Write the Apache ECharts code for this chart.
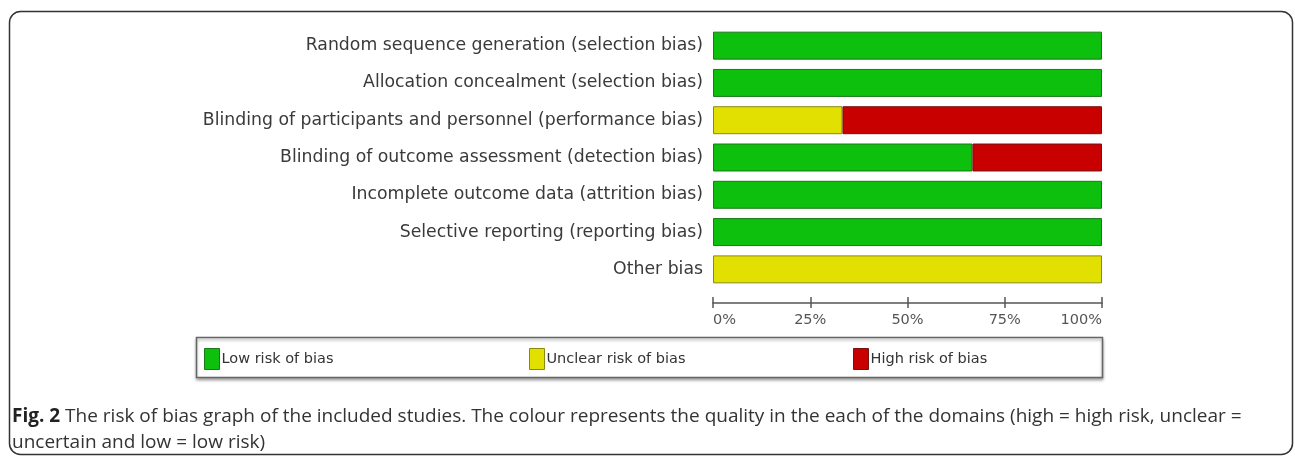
<!DOCTYPE html>
<html>
<head>
<meta charset="utf-8">
<script src="https://cdn.jsdelivr.net/npm/echarts@6/dist/echarts.min.js"></script>
<style>
html,body{margin:0;padding:0;background:#fff;}
#chart{width:1295px;height:457px;}
</style>
</head>
<body>
<div id="chart"></div>
<script>
const categories = [
  'Random sequence generation (selection bias)',
  'Allocation concealment (selection bias)',
  'Blinding of participants and personnel (performance bias)',
  'Blinding of outcome assessment (detection bias)',
  'Incomplete outcome data (attrition bias)',
  'Selective reporting (reporting bias)',
  'Other bias'
];
const lowRisk     = [100, 100, 0, 66.7, 100, 100, 0];
const unclearRisk = [0, 0, 33.3, 0, 0, 0, 100];
const highRisk    = [0, 0, 66.7, 33.3, 0, 0, 0];
const seriesNames = ['Low risk of bias', 'Unclear risk of bias', 'High risk of bias'];
const tickLabels  = ['0%', '25%', '50%', '75%', '100%'];
const captionBold = 'Fig. 2';
const captionText = ' The risk of bias graph of the included studies. The colour represents the quality in the each of the domains (high = high risk, unclear =\nuncertain and low = low risk)';

const fills   = ['#0ec00e', '#e2e000', '#c80000'];
const borders = ['#177a17', '#8a8a10', '#7a1010'];

const chart = echarts.init(document.getElementById('chart'));
const clean = arr => arr.map(v => v === 0 ? '-' : v);
const allData = [lowRisk, unclearRisk, highRisk];

const series = allData.map((d, i) => ({
  name: seriesNames[i],
  type: 'bar',
  stack: 'total',
  data: clean(d),
  barCategoryGap: '25%',
  itemStyle: { color: fills[i], borderColor: borders[i], borderWidth: 1 },
  emphasis: { disabled: true },
  xAxisIndex: 0, yAxisIndex: 0
}));

const legendLefts = [199, 524, 848];
const legends = seriesNames.map((n, i) => ({
  data: [n],
  left: legendLefts[i],
  top: 343,
  orient: 'horizontal',
  itemWidth: 15,
  itemHeight: 21,
  itemGap: 4,
  icon: 'rect',
  selectedMode: false,
  textStyle: { fontFamily: 'DejaVu Sans', fontSize: 14.5, color: '#333', padding: [0,0,0,-3] },
  itemStyle: { borderColor: borders[i], borderWidth: 1 }
}));

const option = {
  animation: false,
  backgroundColor: '#fff',
  title: {
    text: '{b|' + captionBold + '}{n|' + captionText + '}',
    left: 7,
    top: 399,
    textStyle: {
      fontWeight: 'normal',
      rich: {
        b: { fontFamily: 'Open Sans', fontWeight: 'bold', fontSize: 19, color: '#222', lineHeight: 26 },
        n: { fontFamily: 'Open Sans', fontWeight: 'normal', fontSize: 19, color: '#333', lineHeight: 26 }
      }
    }
  },
  legend: legends,
  grid: { left: 713, right: 193, top: 27, bottom: 169, containLabel: false },
  xAxis: [{
    type: 'value', min: 0, max: 100, interval: 25,
    offset: 15,
    splitLine: { show: false },
    axisLine: { show: true, lineStyle: { color: '#555', width: 1.5 } },
    axisTick: { show: true, length: 5, lineStyle: { color: '#555', width: 1.5 } },
    axisLabel: {
      formatter: v => tickLabels[Math.round(v / 25)],
      fontFamily: 'DejaVu Sans', fontSize: 14.5, color: '#555', margin: 10,
      alignMinLabel: 'left', alignMaxLabel: 'right'
    }
  }, {
    type: 'value', min: 0, max: 100, interval: 25,
    position: 'bottom', offset: 15,
    splitLine: { show: false },
    axisLine: { show: false },
    axisTick: { show: true, inside: true, length: 6, lineStyle: { color: '#555', width: 1.5 } },
    axisLabel: { show: false }
  }],
  yAxis: {
    type: 'category', data: categories, inverse: true,
    axisLine: { show: false }, axisTick: { show: false },
    axisLabel: { fontFamily: 'DejaVu Sans', fontSize: 17.3, color: '#3a3a3a', margin: 10 }
  },
  graphic: [
    { type: 'rect', shape: { x: 9.5, y: 11.5, width: 1283, height: 443, r: 11 },
      style: { fill: 'none', stroke: '#333', lineWidth: 1.5 }, z: -1, silent: true },
    { type: 'rect', shape: { x: 196.5, y: 337.5, width: 906, height: 40 },
      style: { fill: '#fff', stroke: '#666', lineWidth: 1.5, shadowBlur: 3, shadowOffsetY: 2, shadowColor: 'rgba(0,0,0,0.35)' }, z: -1, silent: true }
  ],
  series: series
};
chart.setOption(option);
</script>
</body>
</html>
